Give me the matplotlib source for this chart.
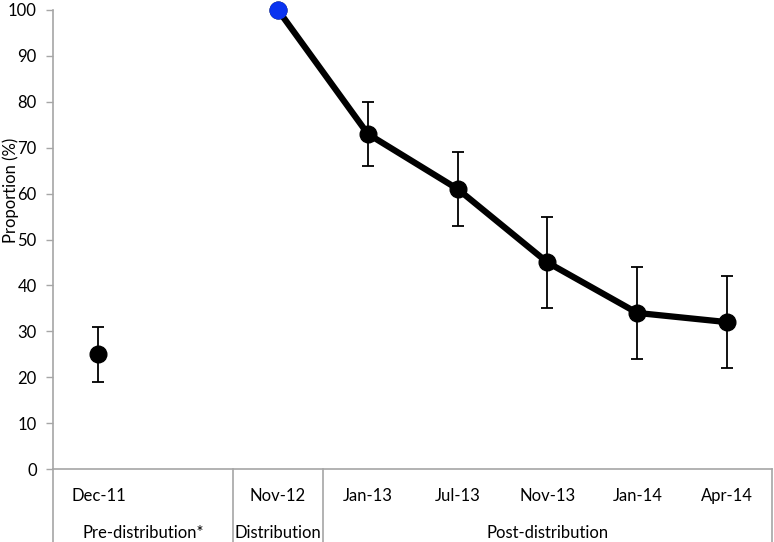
import numpy as np
import matplotlib
matplotlib.use("Agg")
import matplotlib.pyplot as plt

# Data
categories = ["Dec-11", "", "Nov-12", "Jan-13", "Jul-13", "Nov-13", "Jan-14", "Apr-14"]
pre_value = 25
pre_low, pre_high = 19, 31
line_values = [100, 73, 61, 45, 34, 32]
line_low = [100, 66, 53, 35, 24, 22]
line_high = [100, 80, 69, 55, 44, 42]
groups = ["Pre-distribution*", "Distribution", "Post-distribution"]
group_spans = [(-0.5, 1.5), (1.5, 2.5), (2.5, 7.5)]

plt.rcParams['font.family'] = ['Lato', 'DejaVu Sans']
grey = "#a6a6a6"

fig = plt.figure(figsize=(7.74, 5.42), dpi=100)
ax = fig.add_axes([53.5 / 774, 73 / 542, (772 - 53.5) / 774, (469 - 10) / 542])

x = np.arange(len(categories))
line_x = x[2:]

# pre-distribution point
ax.errorbar([x[0]], [pre_value],
            yerr=[[pre_value - pre_low], [pre_high - pre_value]],
            fmt='o', color='black', markersize=12, ecolor='black',
            elinewidth=1.3, capsize=4, capthick=1.3, zorder=3)

# post-distribution line with error bars (skip the distribution point)
vals = np.array(line_values)
lo = vals - np.array(line_low)
hi = np.array(line_high) - vals
ax.errorbar(line_x[1:], vals[1:], yerr=[lo[1:], hi[1:]], fmt='none',
            ecolor='black', elinewidth=1.3, capsize=4, capthick=1.3, zorder=2)
ax.plot(line_x, vals, color='black', linewidth=4.5, marker='o',
        markersize=12, zorder=3, clip_on=False)
ax.plot([line_x[0]], [vals[0]], 'o', color='#0a33f0', markersize=12,
        zorder=4, clip_on=False)

ax.set_xlim(-0.5, 7.5)
ax.set_ylim(0, 100)
ax.set_yticks(np.arange(0, 101, 10))
ax.set_xticks(x)
ax.set_xticklabels(categories)
ax.tick_params(axis='x', length=0, pad=14, labelsize=12)
ax.tick_params(axis='y', length=5, color=grey, width=1, labelsize=12, pad=7)

# y label placed by hand so it stays inside the figure
fig.text(11 / 774, 1 - 190 / 542, "Proportion (%)", rotation=90,
         ha='center', va='center', fontsize=12)

for side in ['top', 'right']:
    ax.spines[side].set_visible(False)
for side in ['left', 'bottom']:
    ax.spines[side].set_color(grey)
    ax.spines[side].set_linewidth(1.2)

# bottom table-like box
tr = ax.get_xaxis_transform()
for xv in [-0.5, 1.5, 2.5, 7.5]:
    ax.plot([xv, xv], [0, -0.2], transform=tr, color=grey, linewidth=1.2,
            clip_on=False)

for name, (a, b) in zip(groups, group_spans):
    ax.text((a + b) / 2, -0.14, name, transform=tr, ha='center', va='center',
            fontsize=12)

fig.savefig("out.png", dpi=100)
